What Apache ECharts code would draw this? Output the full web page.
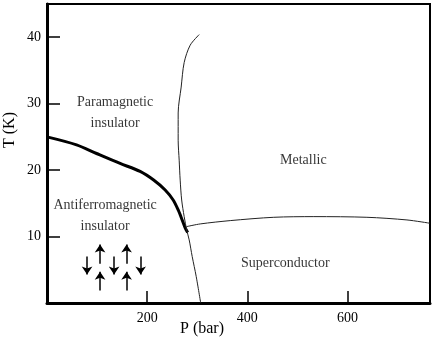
<!DOCTYPE html>
<html lang="en">
<head>
    <meta charset="UTF-8">
    <title>Phase diagram</title>
    <script type="text/javascript" src="https://cdn.jsdelivr.net/npm/echarts@6/dist/echarts.min.js"></script>
    <style>
        html, body { margin: 0; padding: 0; background: #fff; }
        #main { width: 436px; height: 350px; }
    </style>
</head>
<body>
<div id="main"></div>
<script type="text/javascript">
    // axis ticks
    var xTicks = [200, 400, 600];
    var yTicks = [10, 20, 30, 40];

    // thick boundary: antiferromagnetic insulator / paramagnetic insulator  [P (bar), T (K)]
    var afmLine = [[0, 25], [59, 23.8], [99, 22.5], [146, 21.0], [186, 19.8], [213, 18.5],
        [236, 17], [252, 15.5], [262, 14], [270, 12.5], [276, 11.3], [281, 10.6]];

    // thin boundary: insulator / metal, continued down to T = 0
    var mitLine = [[304, 40.4], [286, 38.8], [274, 36.2], [268, 32.5], [262, 28.6], [262, 24.5],
        [264, 21.5], [266, 18.5], [269, 15.5], [274, 13], [279, 11], [284, 9.5], [290, 7],
        [298, 4], [307, 0]];

    // thin boundary: superconductor / metal
    var scLine = [[279, 11.5], [306, 11.9], [366, 12.4], [453, 12.9], [533, 13.0],
        [639, 12.9], [719, 12.5], [765, 12.0]];

    // spin arrows [P, T from, T to]
    var spinsDown = [[80, 7.0, 4.3], [134, 7.0, 4.3], [187, 7.0, 4.3]];
    var spinsUp = [[106, 5.9, 8.8], [159, 5.9, 8.8], [106, 1.9, 4.7], [159, 1.9, 4.7]];

    // region names [P, T, text]
    var regions = [
        [136, 28.6, 'Paramagnetic\ninsulator'],
        [116, 13.1, 'Antiferromagnetic\ninsulator'],
        [512, 21.5, 'Metallic'],
        [476, 5.9, 'Superconductor']
    ];

    var font = '"Liberation Serif", "Times New Roman", serif';

    var arrows = [];
    spinsDown.concat(spinsUp).forEach(function (a) {
        arrows.push({coords: [[a[0], a[1]], [a[0], a[2]]]});
    });

    var myChart = echarts.init(document.getElementById('main'));
    var option = {
        animation: false,
        grid: {
            left: 47, top: 4, right: 6, bottom: 47,
            show: true, borderColor: '#000', borderWidth: 2
        },
        xAxis: {
            type: 'value', min: 0, max: 765, interval: 200,
            axisLine: {show: true, lineStyle: {color: '#000', width: 3}},
            axisTick: {show: true, inside: true, length: 12, lineStyle: {color: '#000', width: 1.5}},
            axisLabel: {
                color: '#000', fontFamily: font, fontSize: 14, margin: 8,
                formatter: function (v) { return xTicks.indexOf(v) >= 0 ? String(v) : ''; }
            },
            splitLine: {show: false}
        },
        yAxis: {
            type: 'value', min: 0, max: 45, interval: 10,
            axisLine: {show: true, lineStyle: {color: '#000', width: 3}},
            axisTick: {show: true, inside: true, length: 13, lineStyle: {color: '#000', width: 1.5}},
            axisLabel: {
                color: '#000', fontFamily: font, fontSize: 14, margin: 6,
                formatter: function (v) { return yTicks.indexOf(v) >= 0 ? String(v) : ''; }
            },
            splitLine: {show: false}
        },
        graphic: [
            {type: 'text', left: 202 - 22, top: 321, style: {text: 'P (bar)', font: '16px ' + font, fill: '#000'}},
            {type: 'text', x: 2, y: 148, rotation: Math.PI / 2,
                style: {text: 'T (K)', font: '16px ' + font, fill: '#000'}}
        ],
        series: [
            {
                type: 'line', data: afmLine, smooth: 0.3, showSymbol: false,
                lineStyle: {color: '#000', width: 3}
            },
            {
                type: 'line', data: mitLine, smooth: 0.3, showSymbol: false,
                lineStyle: {color: '#222', width: 1}
            },
            {
                type: 'line', data: scLine, smooth: 0.3, showSymbol: false,
                lineStyle: {color: '#222', width: 1}
            },
            {
                type: 'lines', coordinateSystem: 'cartesian2d', data: arrows,
                symbol: ['none', 'arrow'], symbolSize: [5, 8],
                lineStyle: {color: '#000', width: 1.5, opacity: 1}
            },
            {
                type: 'scatter', symbolSize: 0, silent: true,
                data: regions.map(function (r) { return {value: [r[0], r[1]], name: r[2]}; }),
                label: {
                    show: true, position: 'inside', formatter: '{b}',
                    fontFamily: font, fontSize: 14, color: '#000', lineHeight: 21, align: 'center'
                }
            }
        ]
    };
    myChart.setOption(option);
</script>
</body>
</html>
